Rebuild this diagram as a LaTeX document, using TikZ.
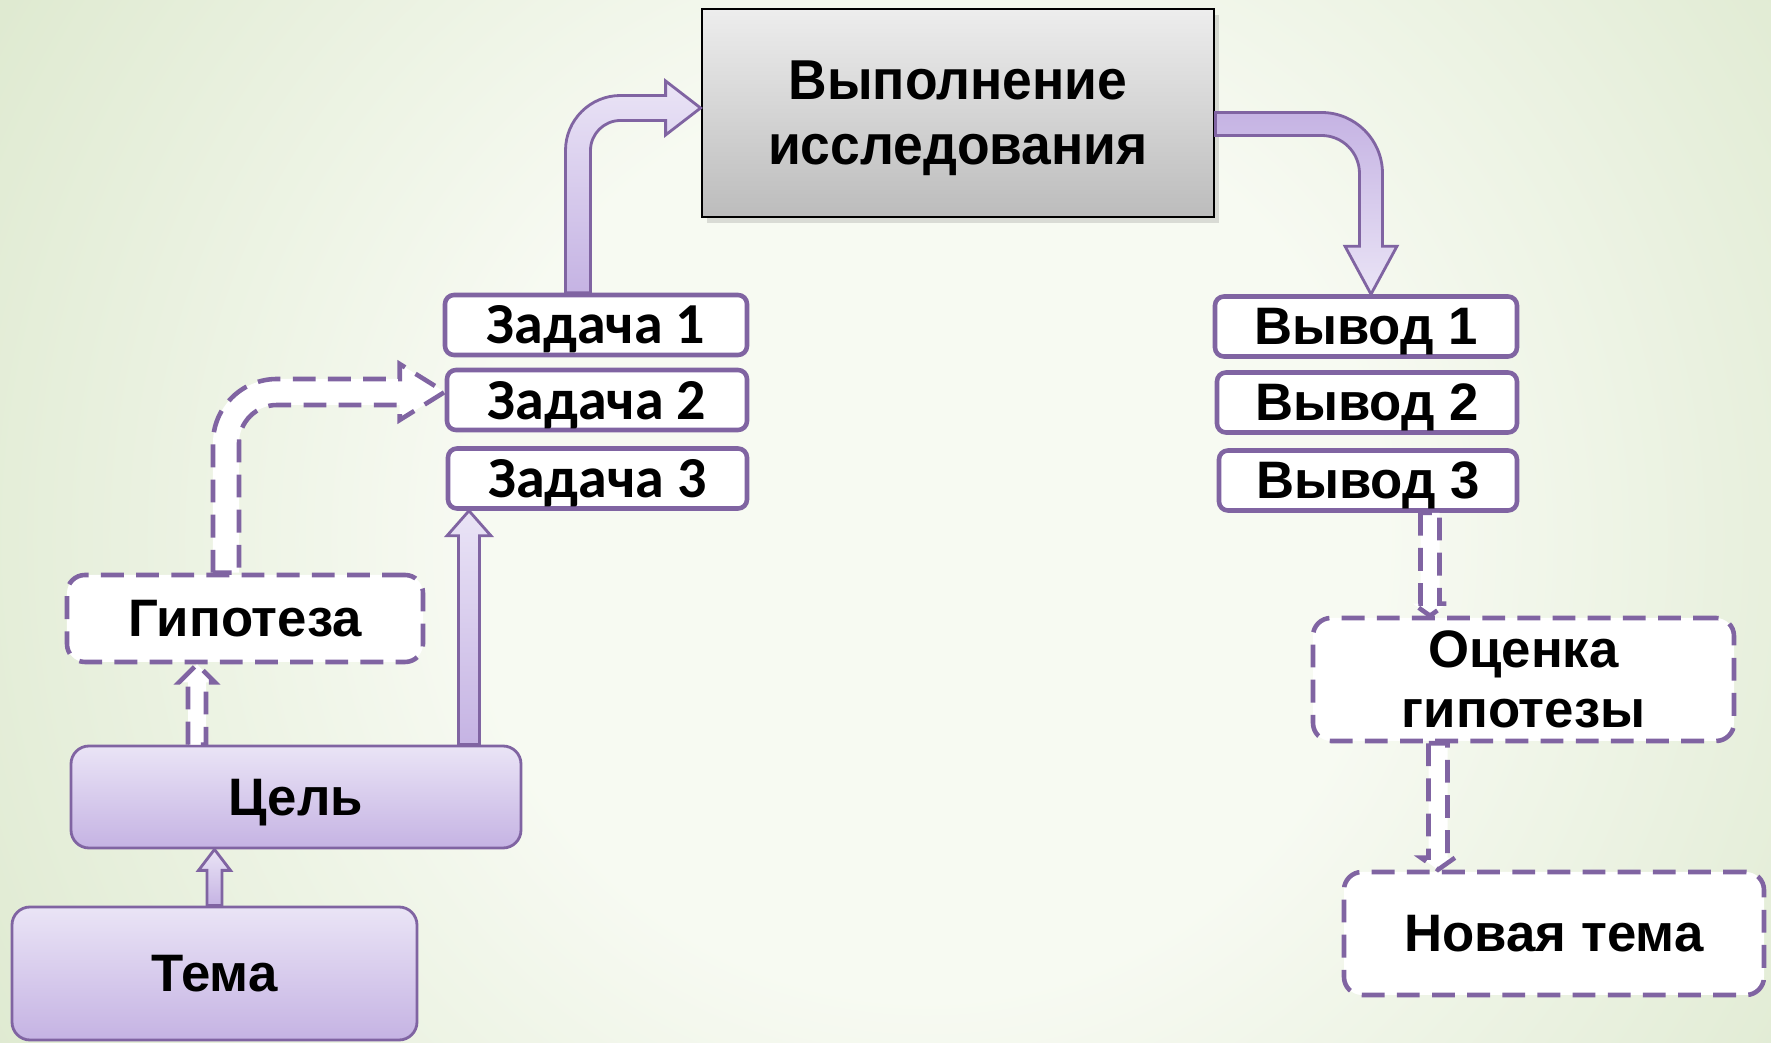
\documentclass[tikz,border=0pt]{standalone}
\usepackage{fontspec}
\setmainfont{Liberation Sans}
\newfontfamily\zadfont{Carlito}
\newfontfamily\narrowfont[FakeStretch=0.95]{Liberation Sans}
\usetikzlibrary{positioning, calc, shadows}
\definecolor{vio}{HTML}{8064A2}
\definecolor{lavtop}{HTML}{EAE4F6}
\definecolor{lavbot}{HTML}{C5B3E3}
\definecolor{grtop}{HTML}{EDEDED}
\definecolor{grbot}{HTML}{BCBCBC}
\definecolor{bgin}{HTML}{F7FAF2}
\definecolor{bgmid}{HTML}{DFEAD1}
\definecolor{bgedge}{HTML}{BCD59E}
\definecolor{bgout}{HTML}{A9C485}
\definecolor{bgdark}{HTML}{9AB472}
\pgfdeclareradialshading{bgshade}{\pgfpoint{0bp}{0bp}}{color(0bp)=(bgin); color(12bp)=(bgin); color(28bp)=(bgmid); color(49bp)=(bgedge); color(58bp)=(bgout); color(72bp)=(bgdark)}

% block arrow, straight: from #2 to #3 (same x), shaft half width #4, head half width #5, head length #6
\newcommand{\blockarrow}[6][]{%
  \path[#1] let \p1=#2, \p2=#3, \p3=($#3!#6!#2$) in
    (\x1-#4,\y1) -- (\x1-#4,\y3) -- (\x1-#5,\y3) -- (\x1,\y2)
    -- (\x1+#5,\y3) -- (\x1+#4,\y3) -- (\x1+#4,\y1) -- cycle;}
% bent block arrow: up from #2, then right to #3; #7 inner radius, #8 outer radius
\newcommand{\bentupright}[8][]{%
  \path[#1] let \p1=#2, \p2=#3 in
    (\x1-#4,\y1) -- (\x1-#4,\y2+#4-#8) arc[start angle=180, end angle=90, radius=#8]
    -- (\x2-#6,\y2+#4) -- (\x2-#6,\y2+#5) -- (\x2,\y2) -- (\x2-#6,\y2-#5) -- (\x2-#6,\y2-#4)
    -- (\x1+#4+#7,\y2-#4) arc[start angle=90, end angle=180, radius=#7]
    -- (\x1+#4,\y1) -- cycle;}
% bent block arrow: right from #2, then down to #3
\newcommand{\bentrightdown}[8][]{%
  \path[#1] let \p1=#2, \p2=#3 in
    (\x1,\y1+#4) -- (\x2+#4-#8,\y1+#4) arc[start angle=90, end angle=0, radius=#8]
    -- (\x2+#4,\y2+#6) -- (\x2+#5,\y2+#6) -- (\x2,\y2) -- (\x2-#5,\y2+#6) -- (\x2-#4,\y2+#6)
    -- (\x2-#4,\y1-#4-#7) arc[start angle=0, end angle=90, radius=#7]
    -- (\x1,\y1-#4) -- cycle;}

\begin{document}
\begin{tikzpicture}[
	mainbox/.style={rectangle, draw=black, line width=0.8pt, top color=grtop, bottom color=grbot,
		minimum width=5.12cm, minimum height=2.08cm, inner sep=0pt, align=center,
		drop shadow={opacity=0.25, shadow xshift=0.05cm, shadow yshift=-0.06cm},
		font=\narrowfont\bfseries\fontsize{16}{18.5}\selectfont},
	taskbox/.style={rectangle, draw=vio, line width=1.3pt, fill=white, rounded corners=0.09cm,
		minimum width=3.0cm, minimum height=0.6cm, inner sep=0pt, text depth=0pt,
		font=\zadfont\bfseries\fontsize{16.5}{18}\selectfont},
	outbox/.style={taskbox, font=\bfseries\fontsize{15}{17}\selectfont},
	dashbox/.style={rectangle, draw=vio, line width=1.3pt, fill=white, rounded corners=0.18cm,
		dash pattern=on 6.5pt off 3.5pt, inner sep=0pt, align=center,
		font=\bfseries\fontsize{15}{17}\selectfont},
	lavbox/.style={rectangle, draw=vio, line width=0.8pt, top color=lavtop, bottom color=lavbot,
		rounded corners=0.18cm, inner sep=0pt, text depth=0pt, font=\bfseries\fontsize{15}{17}\selectfont},
	solidarr/.style={draw=vio, line width=0.8pt, top color=lavtop, bottom color=lavbot},
	dasharr/.style={draw=vio, line width=1.3pt, fill=white, dash pattern=on 6.5pt off 3.5pt}
	]
	
	% фон
	\useasboundingbox (0,0) rectangle (17.71,-10.43);
	\begin{scope}
		\clip (0,0) rectangle (17.71,-10.43);
		\shade[shading=bgshade] (-0.24,4.1) rectangle (18.76,-14.9);
	\end{scope}
	
	% узлы
	\node[mainbox] (vyp) at (9.58,-1.13) {Выполнение\\\smash{исследования}};
	
	\node[taskbox, minimum width=3.02cm] (zad1) at (5.96,-3.25) {Задача 1};
	\node[taskbox] (zad2) at (5.97,-4.00) {Задача 2};
	\node[taskbox, minimum width=2.99cm] (zad3) at (5.975,-4.785) {Задача 3};
	
	\node[outbox, minimum width=3.02cm] (vyv1) at (13.66,-3.265) {Вывод 1};
	\node[outbox] (vyv2) at (13.67,-4.025) {Вывод 2};
	\node[outbox, minimum width=2.98cm] (vyv3) at (13.68,-4.805) {Вывод 3};
	
	\node[dashbox, minimum width=3.56cm, minimum height=0.87cm] (gip) at (2.45,-6.185) {Гипотеза};
	\node[lavbox, minimum width=4.5cm, minimum height=1.02cm] (cel) at (2.96,-7.97) {Цель};
	\node[lavbox, minimum width=4.05cm, minimum height=1.33cm] (tema) at (2.145,-9.735) {Тема};
	
	\node[dashbox, minimum width=4.21cm, minimum height=1.23cm] (ocenka) at (15.235,-6.795) {Оценка\\гипотезы};
	\node[dashbox, minimum width=4.2cm, minimum height=1.23cm] (novaya) at (15.54,-9.335) {Новая тема};
	
	% точки выхода стрелок
	\coordinate (c1) at ([xshift=-0.99cm]cel.north);
	\coordinate (c2) at ([xshift=1.73cm]cel.north);
	\coordinate (v3) at ([xshift=0.62cm]vyv3.south);
	\coordinate (oc) at ([xshift=-0.855cm]ocenka.south);
	
	% стрелки
	\blockarrow[solidarr]{(tema.north)}{(tema.north |- cel.south)}{0.075cm}{0.16cm}{0.21cm}
	\blockarrow[dasharr]{(c1)}{(c1 |- gip.south)}{0.09cm}{0.18cm}{0.18cm}
	\blockarrow[solidarr]{(c2)}{(c2 |- zad3.south)}{0.105cm}{0.22cm}{0.25cm}
	\blockarrow[dasharr]{(v3)}{(v3 |- ocenka.north)}{0.095cm}{0.17cm}{0.12cm}
	\blockarrow[dasharr]{(oc)}{(oc |- novaya.north)}{0.095cm}{0.17cm}{0.12cm}
	\bentupright[dasharr]{([xshift=-0.19cm]gip.north)}{([yshift=0.08cm]zad2.west)}{0.13cm}{0.28cm}{0.45cm}{0.38cm}{0.64cm}
	\bentupright[solidarr]{([xshift=-0.18cm]zad1.north)}{([yshift=0.05cm]vyp.west)}{0.125cm}{0.27cm}{0.35cm}{0.3cm}{0.55cm}
	\bentrightdown[solidarr, top color=lavbot, bottom color=lavtop]{([yshift=-0.11cm]vyp.east)}{([xshift=0.05cm]vyv1.north)}{0.115cm}{0.26cm}{0.48cm}{0.38cm}{0.61cm}
	
\end{tikzpicture}
\end{document}
